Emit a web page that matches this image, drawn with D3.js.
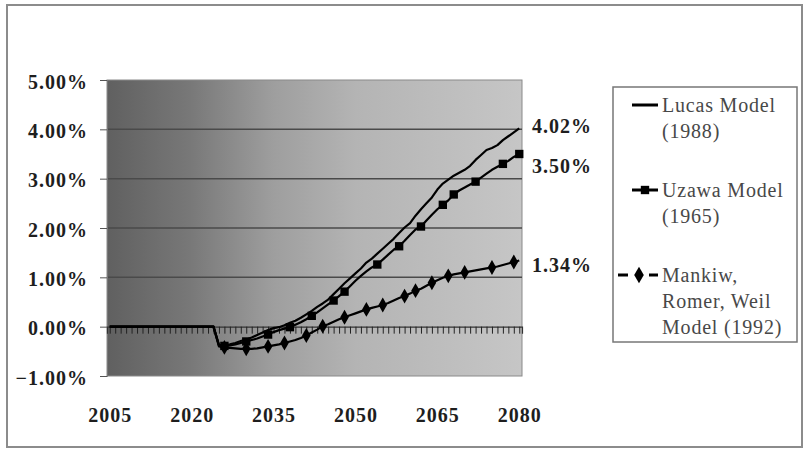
<!DOCTYPE html>
<html>
<head>
<meta charset="utf-8">
<script src="https://cdn.jsdelivr.net/npm/d3@7"></script>
<style>
  body { margin: 0; background: #fff; }
  svg { display: block; }
</style>
</head>
<body>
<svg id="chart" width="809" height="452"></svg>
<script>
// years 2005..2080, one value per year (percent)
const years = d3.range(2005, 2081);
const zeros = new Array(20).fill(0); // 2005..2024

const lucas = zeros.concat([
  -0.37, -0.38, -0.36, -0.33, -0.29, -0.26, -0.22, -0.17, -0.12, -0.07,
  -0.03, -0.01, 0.03, 0.08, 0.12, 0.18, 0.25, 0.32, 0.40, 0.47,
  0.55, 0.66, 0.77, 0.88, 0.98, 1.08, 1.18, 1.30, 1.38, 1.48,
  1.58, 1.68, 1.78, 1.90, 2.01, 2.10, 2.25, 2.38, 2.50, 2.62,
  2.78, 2.90, 2.98, 3.06, 3.12, 3.18, 3.26, 3.38, 3.48, 3.58,
  3.62, 3.68, 3.78, 3.86, 3.94, 4.02
]);

const uzawa = zeros.concat([
  -0.38, -0.39, -0.38, -0.36, -0.33, -0.30, -0.27, -0.24, -0.20, -0.16,
  -0.11, -0.07, -0.04, -0.01, 0.04, 0.09, 0.15, 0.22, 0.29, 0.37,
  0.45, 0.53, 0.62, 0.71, 0.82, 0.93, 1.03, 1.12, 1.20, 1.26,
  1.36, 1.46, 1.56, 1.63, 1.74, 1.86, 1.97, 2.03, 2.15, 2.27,
  2.38, 2.47, 2.56, 2.68, 2.76, 2.82, 2.88, 2.94, 3.02, 3.10,
  3.18, 3.24, 3.30, 3.36, 3.44, 3.50
]);

const mrw = zeros.concat([
  -0.40, -0.42, -0.43, -0.44, -0.45, -0.45, -0.45, -0.44, -0.42, -0.40,
  -0.38, -0.36, -0.33, -0.30, -0.27, -0.23, -0.18, -0.12, -0.06, 0.01,
  0.05, 0.10, 0.15, 0.19, 0.23, 0.27, 0.31, 0.35, 0.38, 0.41,
  0.44, 0.48, 0.53, 0.58, 0.62, 0.67, 0.73, 0.77, 0.83, 0.89,
  0.94, 0.99, 1.03, 1.06, 1.08, 1.10, 1.12, 1.14, 1.16, 1.18,
  1.20, 1.22, 1.25, 1.28, 1.31, 1.34
]);

const uzawaMarkerYears = [2026, 2030, 2034, 2038, 2042, 2046, 2048, 2054, 2058, 2062, 2066, 2068, 2072, 2077, 2080];
const mrwMarkerYears = [2026, 2030, 2034, 2037, 2041, 2044, 2048, 2052, 2055, 2059, 2061, 2064, 2067, 2070, 2075, 2079];

const yTicks = [-1, 0, 1, 2, 3, 4, 5];
const xLabelYears = [2005, 2020, 2035, 2050, 2065, 2080];

const legendLines = [["Lucas Model", "(1988)"], ["Uzawa Model", "(1965)"], ["Mankiw,", "Romer, Weil", "Model (1992)"]];

const svg = d3.select("#chart");
const plotL = 107, plotR = 522, plotT = 80, plotB = 376;
const serif = "'Liberation Serif', 'Times New Roman', Times, serif";
const pct = d => d3.format(".2f")(d) + "%";

const x = d3.scalePoint().domain(years).range([plotL, plotR]).padding(0.5);
const y = d3.scaleLinear().domain([-1, 5]).range([plotB, plotT]);

const boldText = sel => sel
    .attr("font-family", serif).attr("font-size", 20).attr("font-weight", "bold")
    .attr("letter-spacing", 1).attr("fill", "#1e1e1e");

// outer frame
svg.append("rect")
    .attr("x", 7).attr("y", 5).attr("width", 795).attr("height", 442)
    .attr("fill", "#fff").attr("stroke", "#8c8c8c").attr("stroke-width", 2);

// plot background gradient
const grad = svg.append("defs").append("linearGradient")
    .attr("id", "bg").attr("x1", "0%").attr("x2", "100%").attr("y1", "0%").attr("y2", "0%");
[[0, "#606060"], [0.2, "#787878"], [0.4, "#9e9e9e"], [0.6, "#b4b4b4"], [1, "#c6c6c6"]]
  .forEach(s => grad.append("stop").attr("offset", s[0]).attr("stop-color", s[1]));

svg.append("rect")
    .attr("x", plotL).attr("y", plotT).attr("width", plotR - plotL).attr("height", plotB - plotT)
    .attr("fill", "url(#bg)").attr("stroke", "#8a8a8a").attr("stroke-width", 1);

// gridlines
svg.append("g")
  .selectAll("line")
  .data([1, 2, 3, 4])
  .join("line")
    .attr("x1", plotL).attr("x2", plotR)
    .attr("y1", d => y(d)).attr("y2", d => y(d))
    .attr("stroke", "#4a4a4a").attr("stroke-width", 1.5);

// y axis
const yAxis = svg.append("g")
    .attr("transform", `translate(${plotL},0)`)
    .call(d3.axisLeft(y).tickValues(yTicks).tickSize(7).tickPadding(12).tickFormat(pct));
yAxis.select(".domain").attr("stroke", "#777");
yAxis.selectAll(".tick line").attr("stroke", "#555");
yAxis.selectAll("text").call(boldText).attr("dy", "0.4em");

// category axis at zero with yearly ticks
const xAxis = svg.append("g")
    .attr("transform", `translate(0,${y(0)})`)
    .call(d3.axisBottom(x).tickSize(7).tickFormat(""));
xAxis.select(".domain").attr("stroke", "#333").attr("stroke-width", 1.2);
xAxis.selectAll(".tick line").attr("stroke", "#222");

// x labels (low position)
const xLab = svg.append("g")
    .attr("transform", `translate(0,${plotB})`)
    .call(d3.axisBottom(x).tickValues(xLabelYears).tickSize(0).tickPadding(32));
xLab.select(".domain").remove();
xLab.selectAll("text").call(boldText);

// lines
const line = d3.line().x((d, i) => x(years[i])).y(d => y(d));
[lucas, uzawa, mrw].forEach(s => {
  svg.append("path")
      .datum(s)
      .attr("d", line)
      .attr("fill", "none")
      .attr("stroke", "#000")
      .attr("stroke-width", 2.2)
      .attr("stroke-linejoin", "round");
});

// markers
const val = (s, yr) => s[years.indexOf(yr)];
svg.append("g")
  .selectAll("path")
  .data(uzawaMarkerYears)
  .join("path")
    .attr("transform", d => `translate(${x(d)},${y(val(uzawa, d))})`)
    .attr("d", d3.symbol(d3.symbolSquare, 70))
    .attr("fill", "#000");
svg.append("g")
  .selectAll("path")
  .data(mrwMarkerYears)
  .join("path")
    .attr("transform", d => `translate(${x(d)},${y(val(mrw, d))})`)
    .attr("d", d3.symbol(d3.symbolDiamond, 64))
    .attr("fill", "#000");

// end value labels
const endLabels = [
  { v: lucas[lucas.length - 1], dy: 5 },
  { v: uzawa[uzawa.length - 1], dy: 19 },
  { v: mrw[mrw.length - 1], dy: 11 }
];
svg.append("g")
  .selectAll("text")
  .data(endLabels)
  .join("text")
    .attr("x", 532)
    .attr("y", d => y(d.v) + d.dy)
    .call(boldText)
    .text(d => pct(d.v));

// legend
const lg = svg.append("g");
lg.append("rect")
    .attr("x", 613).attr("y", 87).attr("width", 184).attr("height", 255)
    .attr("fill", "#fff").attr("stroke", "#777").attr("stroke-width", 1.5);

const legendY = [105, 190, 275];
legendLines.forEach((lines, i) => {
  const ly = legendY[i];
  if (i < 2) {
    lg.append("line").attr("x1", 632).attr("x2", 658).attr("y1", ly).attr("y2", ly)
        .attr("stroke", "#000").attr("stroke-width", 3);
  } else {
    lg.append("line").attr("x1", 618).attr("x2", 628).attr("y1", ly).attr("y2", ly)
        .attr("stroke", "#000").attr("stroke-width", 3);
    lg.append("line").attr("x1", 649).attr("x2", 658).attr("y1", ly).attr("y2", ly)
        .attr("stroke", "#000").attr("stroke-width", 3);
  }
  if (i === 1) {
    lg.append("path").attr("transform", `translate(645,${ly})`)
        .attr("d", d3.symbol(d3.symbolSquare, 70)).attr("fill", "#000");
  }
  if (i === 2) {
    lg.append("path").attr("transform", `translate(639,${ly})`)
        .attr("d", d3.symbol(d3.symbolDiamond, 80)).attr("fill", "#000");
  }
  lines.forEach((t, j) => {
    lg.append("text")
        .attr("x", 662).attr("y", ly + 7 + j * 26)
        .style("font-family", serif).attr("font-size", 20).attr("letter-spacing", 0.8)
        .attr("fill", "#484848")
        .text(t);
  });
});
</script>
</body>
</html>
